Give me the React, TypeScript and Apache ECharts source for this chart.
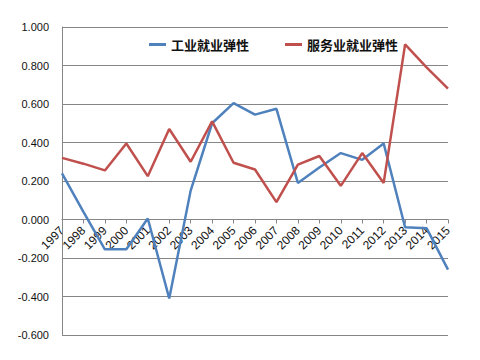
import React, { useEffect, useRef } from "react";
import * as echarts from "echarts";

const years = ["1997","1998","1999","2000","2001","2002","2003","2004","2005","2006","2007","2008","2009","2010","2011","2012","2013","2014","2015"];
const industry = [0.24, 0.04, -0.155, -0.155, 0.005, -0.41, 0.15, 0.50, 0.605, 0.545, 0.575, 0.19, 0.27, 0.345, 0.31, 0.395, -0.04, -0.045, -0.26];
const services = [0.32, 0.29, 0.255, 0.395, 0.225, 0.47, 0.30, 0.51, 0.295, 0.26, 0.09, 0.285, 0.33, 0.175, 0.345, 0.19, 0.91, 0.79, 0.68];
const seriesNames = ["工业就业弹性", "服务业就业弹性"];
const yMin = -0.6;
const yMax = 1.0;

export default function App() {
  const ref = useRef<HTMLDivElement>(null);
  useEffect(() => {
    const chart = echarts.init(ref.current!, undefined, { renderer: "svg" });
    const gridTop = 27;
    const gridBottom = 25;
    const plotH = 360 - gridTop - gridBottom;
    const zeroOffset = -((0 - yMin) / (yMax - yMin)) * plotH;
    chart.setOption({
      animation: false,
      backgroundColor: "#ffffff",
      legend: {
        left: 144,
        top: 33,
        itemGap: 36,
        itemWidth: 17,
        itemHeight: 3,
        icon: "rect",
        textStyle: {
          fontFamily: "Noto Sans CJK SC",
          fontWeight: "bold",
          fontSize: 13,
          color: "#111",
        },
        data: seriesNames,
      },
      grid: { left: 62, right: 32, top: gridTop, bottom: gridBottom, containLabel: false },
      xAxis: {
        type: "category",
        data: years,
        boundaryGap: false,
        offset: zeroOffset,
        axisLine: { onZero: false, lineStyle: { color: "#868686", width: 1 } },
        axisTick: { show: true, length: 4, lineStyle: { color: "#868686" } },
        axisLabel: {
          rotate: 45,
          margin: 9,
          interval: 0,
          fontFamily: "Liberation Sans",
          fontSize: 12,
          color: "#111",
        },
        splitLine: { show: false },
      },
      yAxis: {
        type: "value",
        min: yMin,
        max: yMax,
        interval: 0.2,
        axisLine: { show: true, lineStyle: { color: "#868686", width: 1 } },
        axisTick: { show: false },
        axisLabel: {
          margin: 13,
          fontFamily: "Liberation Sans",
          fontSize: 11,
          color: "#111",
          formatter: (v: number) => v.toFixed(3),
        },
        splitLine: { show: true, lineStyle: { color: "#868686", width: 1 } },
      },
      series: [
        {
          name: seriesNames[0],
          type: "line",
          data: industry,
          showSymbol: false,
          symbol: "none",
          lineStyle: { color: "#4F81BD", width: 2.5 },
          itemStyle: { color: "#4F81BD" },
        },
        {
          name: seriesNames[1],
          type: "line",
          data: services,
          showSymbol: false,
          symbol: "none",
          lineStyle: { color: "#C0504D", width: 2.5 },
          itemStyle: { color: "#C0504D" },
        },
      ],
    });
    return () => chart.dispose();
  }, []);
  return <div ref={ref} style={{ width: 480, height: 360, position: "fixed", left: 0, top: 0 }} />;
}
